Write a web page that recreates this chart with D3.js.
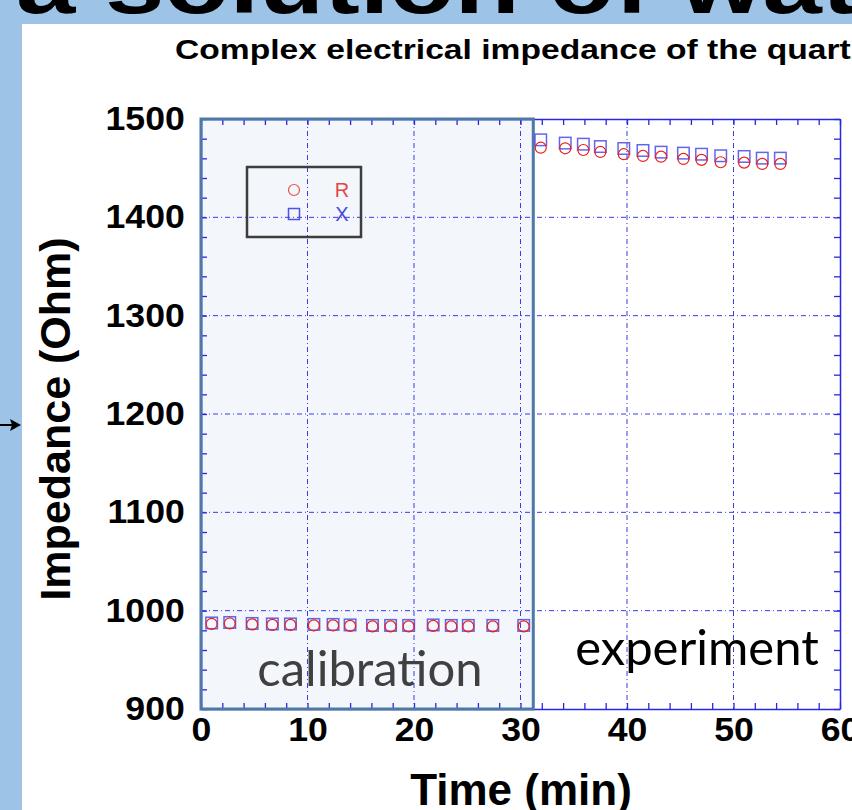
<!DOCTYPE html>
<html><head><meta charset="utf-8">
<script src="https://cdn.jsdelivr.net/npm/d3@7"></script>
<style>html,body{margin:0;padding:0;background:#9DC3E6;overflow:hidden}</style>
</head><body>
<svg id="c" width="852" height="810"></svg>
<script>
// ---- data ----
const calibTime = [1.0, 2.7, 4.8, 6.7, 8.4, 10.6, 12.4, 14.0, 16.1, 17.8, 19.5, 21.8, 23.5, 25.1, 27.4, 30.3];
const calibR    = [986.5, 987, 986, 985.5, 985.5, 985, 985, 984.5, 984, 984, 984, 984.5, 984, 984, 984, 984];
const calibX    = [987.5, 988, 987, 986.5, 986.5, 986, 986, 985.5, 985, 985, 985, 985.5, 985, 985, 985, 985];
const expTime   = [31.9, 34.2, 35.9, 37.5, 39.7, 41.5, 43.2, 45.3, 47.0, 48.8, 51.0, 52.7, 54.4];
const expR      = [1470.8, 1470.2, 1468.5, 1466.5, 1464.2, 1462.4, 1461.7, 1459.4, 1458.4, 1456.0, 1455.6, 1454.3, 1454.3];
const expX      = [1478.8, 1475.5, 1474.4, 1472.0, 1470.0, 1468.0, 1466.3, 1465.3, 1464.2, 1462.6, 1461.9, 1460.2, 1460.2];
const xTicks = [0, 10, 20, 30, 40, 50, 60];
const yTicks = [900, 1000, 1100, 1200, 1300, 1400, 1500];
const calibEnd = 31.2;
const chartTitle = "Complex electrical impedance of the quartz crystal";
const slideTitle = "in a solution of water";

const svg = d3.select("#c");
const x = d3.scaleLinear().domain([0, 60]).range([201, 840]);
const y = d3.scaleLinear().domain([900, 1500]).range([709, 119]);
const axisBlue = "#2626e6";
const fontTick = "Liberation Sans, Arial, sans-serif";

// slide title (cut at top) - place so that "solution" starts near x=105
const st = svg.append("text").attr("y", 13)
  .attr("font-family", fontTick).attr("font-weight", "bold")
  .attr("font-size", 84).attr("fill", "#000").text(slideTitle);
const full = st.node().getComputedTextLength();
st.text("solution of water");
const rest = st.node().getComputedTextLength();
st.text(slideTitle);
const sx = 1.27;
const x0 = 105 - (full - rest) * sx;
st.attr("transform", `translate(${x0},0) scale(${sx},1)`);

// white panel
svg.append("rect").attr("x", 22).attr("y", 24).attr("width", 852).attr("height", 800).attr("fill", "#fff");

// arrow
svg.append("line").attr("x1", 0).attr("x2", 13).attr("y1", 425).attr("y2", 425).attr("stroke", "#000").attr("stroke-width", 2);
svg.append("path").attr("d", "M21,425 L10,419 L12,425 L10,431 Z").attr("fill", "#000");

// chart title
svg.append("text").attr("x", 0).attr("y", 59)
  .attr("font-family", fontTick).attr("font-weight", "bold")
  .attr("font-size", 27).attr("transform", "translate(175,0) scale(1.245,1)")
  .text(chartTitle);

// calibration background
svg.append("rect").attr("x", x(0)).attr("y", y(1500)).attr("width", x(calibEnd) - x(0)).attr("height", y(900) - y(1500))
  .attr("fill", "#F3F7FB");

// grid
const g = svg.append("g");
g.selectAll(".gx").data(xTicks.slice(1, -1)).join("line")
  .attr("x1", d => x(d)).attr("x2", d => x(d)).attr("y1", y(1500)).attr("y2", y(900))
  .attr("stroke", "#3a3ae8").attr("stroke-width", 1).attr("stroke-dasharray", "5,3,1,3");
g.selectAll(".gy").data(yTicks.slice(1, -1)).join("line")
  .attr("y1", d => y(d)).attr("y2", d => y(d)).attr("x1", x(0)).attr("x2", x(60))
  .attr("stroke", "#3a3ae8").attr("stroke-width", 1).attr("stroke-dasharray", "5,3,1,3");

// axes
const minorX = d3.range(0, 61, 2);
const minorY = d3.range(900, 1501, 20);
function styleAxis(sel) {
  sel.select(".domain").attr("stroke", axisBlue).attr("stroke-width", 1.5);
  sel.selectAll(".tick line").attr("stroke", axisBlue).attr("stroke-width", 1.3);
}
const bx = svg.append("g").attr("transform", `translate(0,${y(900)})`)
  .call(d3.axisBottom(x).tickValues(minorX).tickSizeInner(-6).tickSizeOuter(0).tickFormat(""));
styleAxis(bx);
const bxl = svg.append("g").attr("transform", `translate(0,${y(900)})`)
  .call(d3.axisBottom(x).tickValues(xTicks).tickSize(0).tickPadding(9).tickFormat(d3.format("d")));
bxl.select(".domain").remove();
bxl.selectAll("text").attr("font-family", fontTick).attr("font-weight", "bold").attr("font-size", 33).attr("fill", "#000")
  .attr("transform", "scale(1.08,1)");

const tx = svg.append("g").attr("transform", `translate(0,${y(1500)})`)
  .call(d3.axisTop(x).tickValues(minorX).tickSizeInner(-6).tickSizeOuter(0).tickFormat(""));
styleAxis(tx);

const ly = svg.append("g").attr("transform", `translate(${x(0)},0)`)
  .call(d3.axisLeft(y).tickValues(minorY).tickSizeInner(-6).tickSizeOuter(0).tickFormat(""));
styleAxis(ly);
const lyl = svg.append("g").attr("transform", `translate(${x(0)},0)`)
  .call(d3.axisLeft(y).tickValues(yTicks).tickSize(0).tickPadding(15).tickFormat(d3.format("d")));
lyl.select(".domain").remove();
lyl.selectAll("text").attr("font-family", fontTick).attr("font-weight", "bold").attr("font-size", 33).attr("fill", "#000")
  .attr("transform", "scale(1.08,1)");

const ry = svg.append("g").attr("transform", `translate(${x(60)},0)`)
  .call(d3.axisRight(y).tickValues(minorY).tickSizeInner(-6).tickSizeOuter(0).tickFormat(""));
styleAxis(ry);

// calibration frame
svg.append("rect").attr("x", x(0)).attr("y", y(1500)).attr("width", x(calibEnd) - x(0)).attr("height", y(900) - y(1500))
  .attr("fill", "none").attr("stroke", "#4E79A7").attr("stroke-width", 3);

// axis titles
svg.append("text").attr("transform", "translate(70,419) rotate(-90)").attr("text-anchor", "middle")
  .attr("font-family", fontTick).attr("font-weight", "bold").attr("font-size", 43).text("Impedance (Ohm)");
svg.append("text").attr("x", 521).attr("y", 805).attr("text-anchor", "middle")
  .attr("font-family", fontTick).attr("font-weight", "bold").attr("font-size", 44).text("Time (min)");

// region labels
svg.append("text").attr("x", 370).attr("y", 686).attr("text-anchor", "middle")
  .attr("font-family", "Lato, Open Sans, sans-serif").attr("font-size", 49).attr("fill", "#404040").text("calibration");
svg.append("text").attr("x", 697).attr("y", 665).attr("text-anchor", "middle")
  .attr("font-family", "Lato, Open Sans, sans-serif").attr("font-size", 49).attr("fill", "#000").text("experiment");

// data points
const allTime = calibTime.concat(expTime);
const allR = calibR.concat(expR);
const allX = calibX.concat(expX);
const sq = 11.5;
svg.append("g").selectAll("rect").data(allTime.map((t, i) => [t, allX[i]])).join("rect")
  .attr("x", d => x(d[0]) - sq / 2).attr("y", d => y(d[1]) - sq / 2).attr("width", sq).attr("height", sq)
  .attr("fill", "none").attr("stroke", "#4a4ae8").attr("stroke-width", 1.5).attr("stroke-opacity", 0.85);
svg.append("g").selectAll("circle").data(allTime.map((t, i) => [t, allR[i]])).join("circle")
  .attr("cx", d => x(d[0])).attr("cy", d => y(d[1])).attr("r", 5.5)
  .attr("fill", "none").attr("stroke", "#e82020").attr("stroke-width", 1.2);

// legend
const lg = svg.append("g");
lg.append("rect").attr("x", 247).attr("y", 167).attr("width", 114).attr("height", 70)
  .attr("fill", "none").attr("stroke", "#3d3d3d").attr("stroke-width", 2.5);
lg.append("circle").attr("cx", 294).attr("cy", 190).attr("r", 5.5).attr("fill", "none").attr("stroke", "#e85050").attr("stroke-width", 1.2);
lg.append("rect").attr("x", 294 - 5.5).attr("y", 214 - 5.5).attr("width", 11).attr("height", 11)
  .attr("fill", "none").attr("stroke", "#5050e8").attr("stroke-width", 1.5);
lg.append("text").attr("x", 342).attr("y", 197).attr("text-anchor", "middle").attr("font-family", fontTick)
  .attr("font-size", 20).attr("fill", "#e04848").text("R");
lg.append("text").attr("x", 342).attr("y", 221).attr("text-anchor", "middle").attr("font-family", fontTick)
  .attr("font-size", 20).attr("fill", "#4848e0").text("X");
</script>
</body></html>
